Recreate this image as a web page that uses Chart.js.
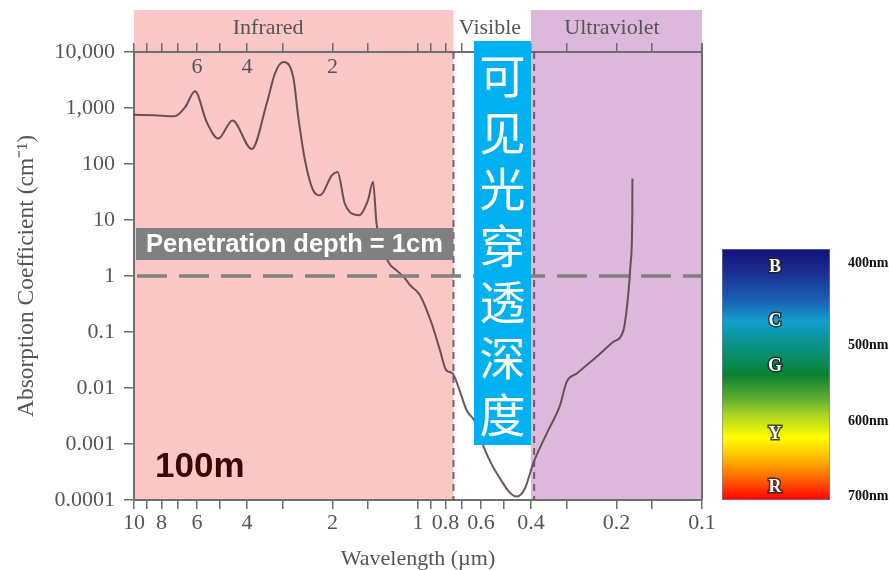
<!DOCTYPE html>
<html>
<head>
<meta charset="utf-8">
<script src="https://cdn.jsdelivr.net/npm/chart.js@4.4.1/dist/chart.umd.min.js"></script>
<style>
  html, body { margin: 0; padding: 0; background: #ffffff; }
  canvas { display: block; }
</style>
</head>
<body>
<canvas id="c" width="889" height="570"></canvas>
<script>
// Absorption spectrum of water: absorption coefficient (cm^-1) against wavelength (µm)
const wavelengths = [10, 8.5, 7.2, 6.6, 6.1, 5.55, 5.05, 4.5, 3.85, 3.41,
  3.19, 2.98, 2.75, 2.64, 2.5, 2.34, 2.21, 2.01, 1.92, 1.81,
  1.61, 1.5, 1.44, 1.40, 1.27, 1.19, 1.11, 1.067, 0.984, 0.895,
  0.837, 0.796, 0.755, 0.721, 0.674, 0.63, 0.6, 0.581, 0.528, 0.449,
  0.42, 0.393, 0.352, 0.316, 0.2996, 0.276, 0.235, 0.205, 0.189, 0.1817,
  0.178, 0.176, 0.1758];
const absorption = [760, 740, 710, 1040, 2000, 563, 285, 600, 185, 1200,
  4120, 6600, 3580, 690, 117, 34, 27.7, 63, 72, 19.7,
  12.2, 22.6, 48, 8.8, 1.76, 1.26, 0.90, 0.687, 0.455, 0.142,
  0.0475, 0.0209, 0.0182, 0.0105, 0.0040, 0.0025, 0.0012, 0.00078, 0.0003, 0.000115,
  0.000162, 0.00045, 0.00155, 0.00495, 0.0129, 0.0182, 0.036, 0.0668, 0.108, 0.489,
  1.92, 11.4, 55];

// Axis ticks and labels
const xTickValues = [10, 9, 8, 7, 6, 5, 4, 3, 2, 1.5, 1, 0.9, 0.8, 0.7, 0.6, 0.5, 0.4, 0.3, 0.2, 0.15, 0.1];
const xTickLabels = [10, 8, 6, 4, 2, 1, 0.8, 0.6, 0.4, 0.2, 0.1];
const topTickLabels = [6, 4, 2];
const yTickValues = [0.0001, 0.001, 0.01, 0.1, 1, 10, 100, 1000, 10000];
const yTickLabels = ['0.0001', '0.001', '0.01', '0.1', '1', '10', '100', '1,000', '10,000'];

// Spectral regions (µm)
const infraredBand = [10, 0.75];
const ultravioletBand = [0.4, 0.1];
const regionNames = ['Infrared', 'Visible', 'Ultraviolet'];
const regionLabelAt = [3.37, 0.558, 0.2075];
const boundaryLines = [0.75, 0.39];
const penetrationLevel = 1;   // 1 cm^-1  -> 1 cm depth

// Visible colour scale
const colourLetters = ['B', 'C', 'G', 'Y', 'R'];
const nmLabels = ['400nm', '500nm', '600nm', '700nm'];
const verticalText = ['可', '见', '光', '穿', '透', '深', '度'];

const serif = '"Liberation Serif", "Times New Roman", serif';
const sans = '"Liberation Sans", Arial, sans-serif';
const axisGrey = '#6e6e6e';
const textGrey = '#555555';

const setXTicks = axis => { axis.ticks = xTickValues.map(v => ({ value: v })); };

const decorations = {
  id: 'decorations',
  beforeDraw(chart) {
    const { ctx, chartArea: a, scales: { x } } = chart;
    const bandTop = 10;
    ctx.save();
    // infrared band
    let l = x.getPixelForValue(infraredBand[0]);
    let r = x.getPixelForValue(infraredBand[1]);
    ctx.fillStyle = '#fbc7c7';
    ctx.fillRect(l, bandTop, r - l, a.bottom - bandTop);
    // ultraviolet band
    l = x.getPixelForValue(ultravioletBand[0]);
    r = x.getPixelForValue(ultravioletBand[1]);
    ctx.fillStyle = '#dcb9dc';
    ctx.fillRect(l, bandTop, r - l, a.bottom - bandTop);
    // region names
    ctx.fillStyle = textGrey;
    ctx.font = '22px ' + serif;
    ctx.textAlign = 'center';
    ctx.textBaseline = 'middle';
    regionNames.forEach((n, i) => ctx.fillText(n, x.getPixelForValue(regionLabelAt[i]), 28));
    ctx.restore();
  },
  afterDatasetsDraw(chart) {
    const { ctx, chartArea: a, scales: { x, y } } = chart;
    ctx.save();
    // region boundaries
    ctx.strokeStyle = 'rgba(115,65,85,0.85)';
    ctx.lineWidth = 2;
    ctx.setLineDash([7, 5]);
    boundaryLines.forEach(w => {
      const px = x.getPixelForValue(w);
      ctx.beginPath();
      ctx.moveTo(px, a.top);
      ctx.lineTo(px, a.bottom);
      ctx.stroke();
    });
    // 1 cm penetration level
    const py = y.getPixelForValue(penetrationLevel);
    ctx.strokeStyle = '#808080';
    ctx.lineWidth = 3.5;
    ctx.setLineDash([30, 12]);
    ctx.beginPath();
    ctx.moveTo(a.left + 3, py);
    ctx.lineTo(a.right, py);
    ctx.stroke();
    ctx.setLineDash([]);

    // right frame
    ctx.strokeStyle = axisGrey;
    ctx.lineWidth = 2;
    ctx.beginPath();
    ctx.moveTo(a.right, a.top - 9);
    ctx.lineTo(a.right, a.bottom);
    ctx.stroke();

    // penetration depth caption
    const irEdge = x.getPixelForValue(infraredBand[1]);
    ctx.fillStyle = '#808080';
    ctx.fillRect(a.left + 2, 228, irEdge - a.left - 2, 32);
    ctx.fillStyle = '#ffffff';
    ctx.font = 'bold 25.5px ' + sans;
    ctx.textAlign = 'left';
    ctx.textBaseline = 'alphabetic';
    ctx.fillText('Penetration depth = 1cm', 146, 252);

    // vertical caption box
    ctx.fillStyle = '#00b0f0';
    ctx.fillRect(474, 41, 57, 404);
    ctx.fillStyle = '#ffffff';
    ctx.font = '46px "Noto Sans CJK SC", sans-serif';
    ctx.textAlign = 'center';
    ctx.textBaseline = 'middle';
    verticalText.forEach((ch, i) => ctx.fillText(ch, 502.5, 76 + i * 56.4));

    // depth note
    ctx.fillStyle = '#3a0505';
    ctx.font = 'bold 35px ' + sans;
    ctx.textAlign = 'left';
    ctx.textBaseline = 'alphabetic';
    ctx.fillText('100m', 155, 477);

    // top axis labels
    ctx.fillStyle = textGrey;
    ctx.font = '22px ' + serif;
    ctx.textAlign = 'center';
    ctx.textBaseline = 'middle';
    topTickLabels.forEach(v => ctx.fillText(String(v), x.getPixelForValue(v), 67));
    ctx.restore();
  },
  afterDraw(chart) {
    const { ctx } = chart;
    const bx = 722, by = 249, bw = 108, bh = 251;
    ctx.save();
    const g = ctx.createLinearGradient(0, by, 0, by + bh);
    g.addColorStop(0.00, '#12127a');
    g.addColorStop(0.08, '#1a2a8c');
    g.addColorStop(0.20, '#1c5cb4');
    g.addColorStop(0.29, '#12a0cc');
    g.addColorStop(0.37, '#0a9290');
    g.addColorStop(0.46, '#0a8a50');
    g.addColorStop(0.50, '#0a8030');
    g.addColorStop(0.60, '#62b030');
    g.addColorStop(0.67, '#b4d81e');
    g.addColorStop(0.75, '#ffff00');
    g.addColorStop(0.84, '#ffb400');
    g.addColorStop(0.92, '#ff6000');
    g.addColorStop(1.00, '#ff0000');
    ctx.fillStyle = g;
    ctx.fillRect(bx, by, bw, bh);
    ctx.strokeStyle = 'rgba(130,130,170,0.6)';
    ctx.lineWidth = 1;
    ctx.strokeRect(bx + 0.5, by + 0.5, bw - 1, bh - 1);

    const letterY = [267, 321, 366, 434, 487];
    ctx.font = 'bold 18px ' + serif;
    ctx.textAlign = 'center';
    ctx.textBaseline = 'middle';
    ctx.lineWidth = 3;
    ctx.strokeStyle = 'rgba(30,30,30,0.8)';
    ctx.fillStyle = '#ffffff';
    colourLetters.forEach((c, i) => {
      ctx.strokeText(c, 775, letterY[i]);
      ctx.fillText(c, 775, letterY[i]);
    });

    const nmY = [263, 345, 421, 496];
    ctx.font = 'bold 14px ' + serif;
    ctx.textAlign = 'left';
    ctx.fillStyle = '#111111';
    nmLabels.forEach((t, i) => ctx.fillText(t, 848, nmY[i]));
    ctx.restore();
  }
};

new Chart(document.getElementById('c'), {
  type: 'line',
  data: {
    datasets: [{
      data: wavelengths.map((w, i) => ({ x: w, y: absorption[i] })),
      borderColor: 'rgba(85,58,64,0.85)',
      borderWidth: 2,
      pointRadius: 0,
      fill: false,
      cubicInterpolationMode: 'monotone'
    }]
  },
  options: {
    responsive: false,
    animation: false,
    devicePixelRatio: 1,
    layout: { padding: { left: 0, right: 187, top: 0, bottom: 0 } },
    plugins: { legend: { display: false }, tooltip: { enabled: false } },
    scales: {
      x: {
        type: 'logarithmic', position: 'bottom', min: 0.1, max: 10, reverse: true,
        afterBuildTicks: setXTicks,
        afterFit: s => { s.height = 70; },
        ticks: {
          autoSkip: false, maxRotation: 0, padding: 1, color: textGrey,
          font: { family: serif, size: 22 },
          callback: v => xTickLabels.includes(v) ? String(v) : ''
        },
        grid: { drawOnChartArea: false, drawTicks: true, tickLength: 9, color: axisGrey, lineWidth: 1.5 },
        border: { color: axisGrey, width: 2 },
        title: {
          display: true, text: 'Wavelength (µm)', color: textGrey,
          font: { family: serif, size: 22, lineHeight: 1 }, padding: 0
        }
      },
      xTop: {
        axis: 'x', type: 'logarithmic', position: 'top', min: 0.1, max: 10, reverse: true,
        afterBuildTicks: setXTicks,
        afterFit: s => { s.height = 52; },
        ticks: { autoSkip: false, maxRotation: 0, callback: () => '' },
        grid: { drawOnChartArea: false, drawTicks: true, tickLength: 9, color: axisGrey, lineWidth: 1.5 },
        border: { color: axisGrey, width: 2 }
      },
      y: {
        type: 'logarithmic', position: 'left', min: 0.0001, max: 10000,
        afterBuildTicks: axis => { axis.ticks = yTickValues.map(v => ({ value: v })); },
        afterFit: s => { s.width = 134; },
        ticks: {
          autoSkip: false, padding: 9, color: textGrey,
          font: { family: serif, size: 22 },
          callback: (v, i) => yTickLabels[i]
        },
        grid: { drawOnChartArea: false, drawTicks: true, tickLength: 10, color: axisGrey, lineWidth: 1.5 },
        border: { color: axisGrey, width: 2 },
        title: {
          display: true, text: 'Absorption Coefficient (cm⁻¹)', color: textGrey,
          font: { family: serif, size: 23.5, lineHeight: 1 }, padding: { top: 15, bottom: 0 }
        }
      }
    }
  },
  plugins: [decorations]
});
</script>
</body>
</html>
